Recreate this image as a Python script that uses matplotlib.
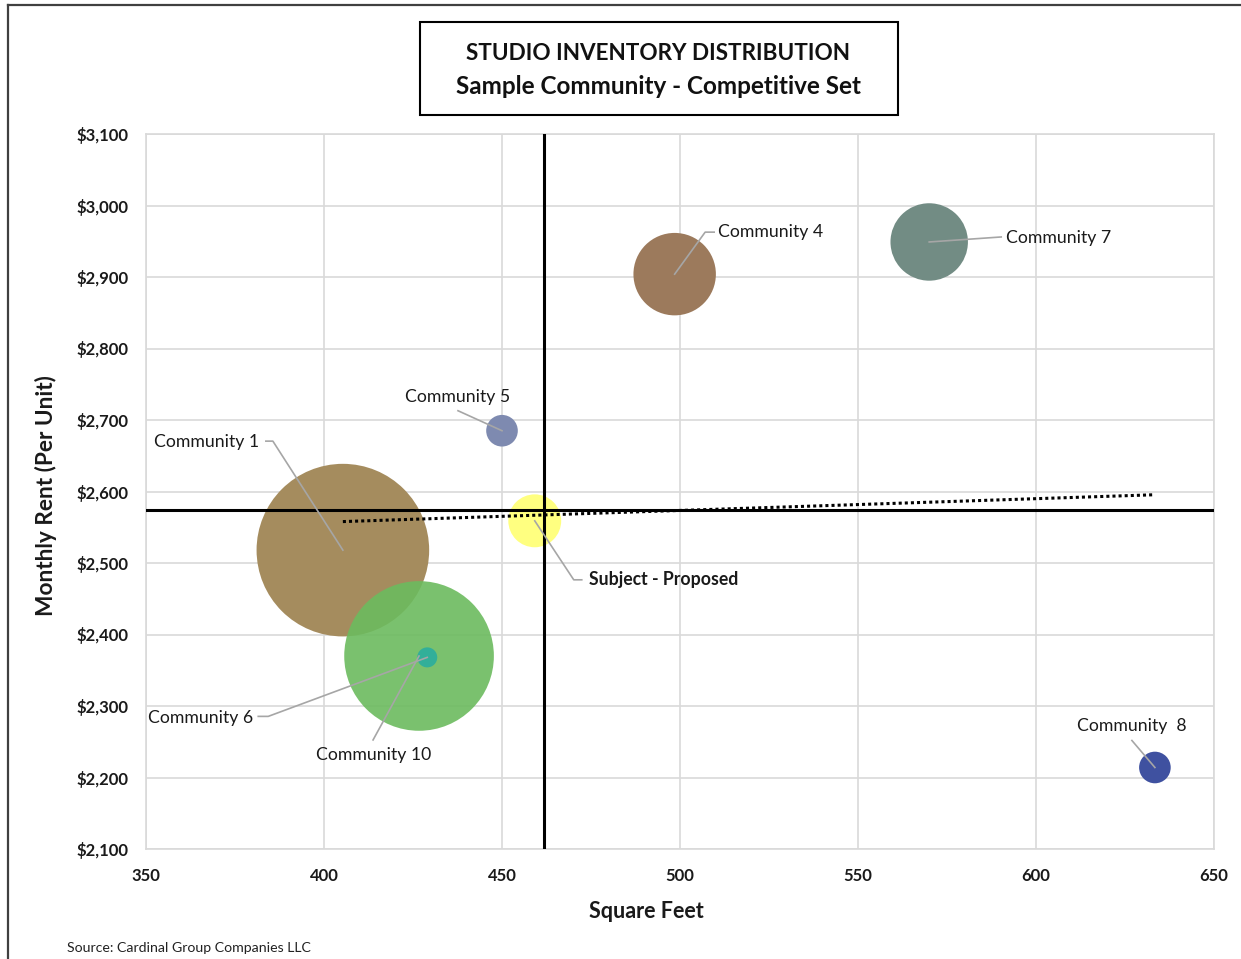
import numpy as np
import matplotlib
matplotlib.use("Agg")
import matplotlib.pyplot as plt
from matplotlib.patches import Rectangle
from matplotlib.lines import Line2D
from matplotlib.ticker import FuncFormatter, MultipleLocator

plt.rcParams["font.family"] = ["Lato", "DejaVu Sans"]

# Communities: square feet, monthly rent, studio units
names = ["Community 1", "Community 10", "Community 6", "Community 5",
         "Subject - Proposed", "Community 4", "Community 7", "Community  8"]
sqft = [405.3, 426.7, 429.0, 450.0, 459.2, 498.5, 570.0, 633.4]
rent = [2518, 2370, 2368, 2685, 2559, 2904, 2949, 2214]
units = [149, 112, 2, 5, 14, 34, 30, 5]
colors = ["#A58C5E", "#6CBB5E", "#2EAE9C", "#7E8AB0",
          "#FFFF80", "#9C7A5C", "#728C84", "#3F51A0"]
alphas = [1.0, 0.9, 0.95, 1.0, 1.0, 1.0, 1.0, 1.0]

# market averages shown as crosshair
avg_sqft = 461.9
avg_rent = 2574

# label layout: text offset (px) from bubble, alignment, leader points (px)
label_pos = [
    ((-84, 108), "right", [(-77, 109), (-70, 109)]),
    ((-45, -99), "center", [(-46, -84)]),
    ((-174, -61), "right", [(-169, -59), (-159, -59)]),
    ((-44, 34), "center", [(-44, 20)]),
    ((54, -59), "left", [(47, -59), (39, -59)]),
    ((43.5, 42), "left", [(39.5, 42), (30.5, 42)]),
    ((77, 4), "left", [(72, 5)]),
    ((-23.5, 41), "center", [(-23, 27)]),
]

fig = plt.figure(figsize=(12.41, 9.59), dpi=100)
W, H = 1241, 959
ax = fig.add_axes([146 / W, 1 - 849 / H, 1068 / W, 715 / H])

ax.set_xlim(350, 650)
ax.set_ylim(2100, 3100)
ax.xaxis.set_major_locator(MultipleLocator(50))
ax.yaxis.set_major_locator(MultipleLocator(100))
ax.yaxis.set_major_formatter(FuncFormatter(lambda v, p: f"${v:,.0f}"))
ax.grid(True, color="#D9D9D9", linewidth=1.2)
ax.set_axisbelow(True)
for s in ax.spines.values():
    s.set_color("#D9D9D9")
    s.set_linewidth(1.2)
ax.tick_params(axis="y", length=0, labelsize=12, pad=12.5, labelcolor="#1A1A1A")
ax.tick_params(axis="x", length=0, labelsize=12, pad=13.5, labelcolor="#1A1A1A")
for lbl in ax.get_xticklabels() + ax.get_yticklabels():
    lbl.set_fontweight("bold")

# bubbles: area proportional to units, biggest radius ~86 px
r_max = 86.3
for x, y, u, c, a in zip(sqft, rent, units, colors, alphas):
    r_px = r_max * np.sqrt(u / max(units))
    d_pt = 2 * r_px * 72 / fig.dpi
    ax.scatter(x, y, s=d_pt ** 2, color=c, alpha=a, edgecolors="none", zorder=3)

# crosshair at averages
ax.axvline(avg_sqft, color="black", linewidth=2.2, zorder=4)
ax.axhline(avg_rent, color="black", linewidth=2.2, zorder=4)

# linear trendline
k, b = np.polyfit(sqft, rent, 1)
tx = np.array([min(sqft), max(sqft)])
ax.plot(tx, k * tx + b, color="black", linestyle=(0, (1, 1)), linewidth=2.2, zorder=5)

# data labels with leader lines
fig.canvas.draw()
to_disp = ax.transData
to_data = ax.transData.inverted()
for name, x, y, (off, ha, leader) in zip(names, sqft, rent, label_pos):
    px, py = to_disp.transform((x, y))
    pts = [to_data.transform((px + dx, py + dy)) for dx, dy in leader]
    pts.append((x, y))
    lx, ly = zip(*pts)
    ax.plot(lx, ly, color="#A6A6A6", linewidth=1.2, zorder=6)
    tx_, ty_ = to_data.transform((px + off[0], py + off[1]))
    weight = "bold" if name.startswith("Subject") else "normal"
    ax.text(tx_, ty_, name, ha=ha, va="center", fontsize=12.7,
            fontweight=weight, color="#1A1A1A", zorder=7)

ax.set_xlabel("Square Feet", fontsize=15.5, fontweight="bold", color="#1A1A1A")
ax.xaxis.set_label_coords(500 / 1068, -63 / 715)
ax.set_ylabel("Monthly Rent (Per Unit)", fontsize=16.3, fontweight="bold", color="#1A1A1A")
ax.yaxis.set_label_coords(-100 / 1068, 353 / 715)
ax.xaxis.label.set_va("center")
ax.yaxis.label.set_va("center")

# title box
fig.patches.append(Rectangle((420 / W, 1 - 115 / H), 478 / W, 93 / H,
                             transform=fig.transFigure, fill=False,
                             edgecolor="black", linewidth=1.5))
fig.text(658 / W, 1 - 53 / H, "STUDIO INVENTORY DISTRIBUTION", ha="center",
         va="center", fontsize=16.2, fontweight="bold", color="#111111")
fig.text(658 / W, 1 - 86 / H, "Sample Community - Competitive Set", ha="center",
         va="center", fontsize=17.5, fontweight="bold", color="#111111")

fig.text(67 / W, 1 - 948 / H, "Source: Cardinal Group Companies LLC",
         ha="left", va="center", fontsize=10.2, color="#222222")

# outer frame (top and left edges)
fig.lines.append(Line2D([8 / W, 1.0], [1 - 5 / H, 1 - 5 / H],
                        transform=fig.transFigure, color="#404040", linewidth=1.6))
fig.lines.append(Line2D([8 / W, 8 / W], [1 - 5 / H, 0],
                        transform=fig.transFigure, color="#404040", linewidth=1.6))

fig.savefig("out.png", dpi=100)
